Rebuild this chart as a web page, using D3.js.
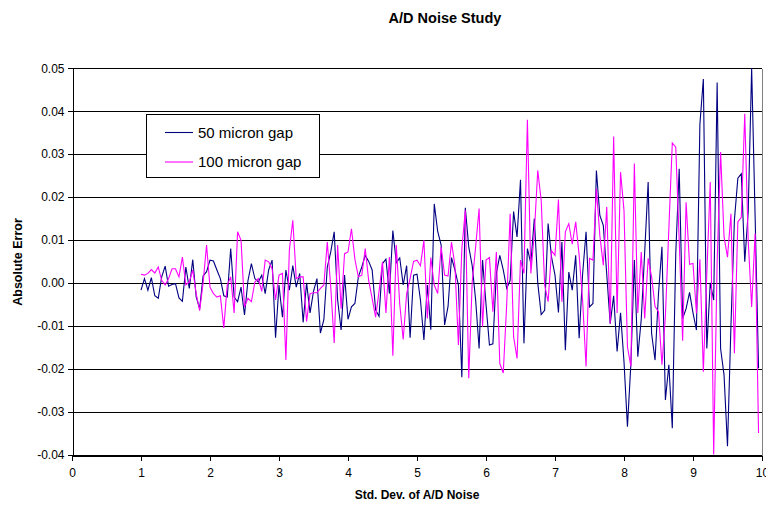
<!DOCTYPE html>
<html>
<head>
<meta charset="utf-8">
<script src="https://cdn.jsdelivr.net/npm/d3@7"></script>
<style>
  html, body { margin: 0; padding: 0; background: #ffffff; }
  svg { display: block; }
  text { font-family: "Liberation Sans", Arial, sans-serif; fill: #000; }
</style>
</head>
<body>
<svg id="chart" width="766" height="506"></svg>
<script>
// ---- data ----
const chartTitle = "A/D Noise Study";
const xTitle = "Std. Dev. of A/D Noise";
const yTitle = "Absolute Error";
const seriesNames = ["50 micron gap", "100 micron gap"];
const xStart = 1;
const xStep = 0.05;
const xTicks = [0, 1, 2, 3, 4, 5, 6, 7, 8, 9, 10];
const yTicks = [-0.04, -0.03, -0.02, -0.01, 0, 0.01, 0.02, 0.03, 0.04, 0.05];

const gap50 = [
  -0.0017, 0.001, -0.0017, 0.0012, -0.003, -0.0036, 0.0014, 0.0039, -0.0008, -0.0004,
  -0.0002, -0.0035, -0.0043, 0.0037, -0.0013, 0.0054, -0.0033, -0.006, 0.0016, 0.0026,
  0.0053, 0.0051, 0.003, 0.001, -0.003, -0.0033, 0.008, -0.0033, -0.0044, -0.001,
  -0.0075, 0.0005, 0.0045, 0.001, 0.0002, 0.0018, -0.0025, 0.003, 0.0053, -0.0128,
  -0.0005, -0.008, 0.003, -0.0017, 0.004, -0.001, 0.0022, -0.0092, 0.0, -0.007,
  -0.002, 0.001, -0.0117, -0.0086, 0.0037, 0.0072, 0.0119, -0.004, -0.011, 0.0018,
  -0.0085, -0.0056, -0.0048, 0.0014, 0.0037, 0.0064, 0.005, 0.003, -0.0063, -0.0078,
  0.0045, 0.0055, -0.0025, 0.0122, 0.0047, 0.0058, -0.0005, 0.004, -0.0128, 0.0018,
  0.002, -0.004, -0.0133, -0.0005, -0.0109, 0.0184, 0.012, 0.0088, -0.0098, -0.0055,
  0.0059, 0.003, -0.0005, -0.022, 0.0175, 0.0084, 0.004, -0.004, -0.0153, 0.0053,
  -0.005, -0.0145, -0.0142, 0.0022, 0.0064, 0.003, -0.0013, 0.0006, 0.0166, 0.0107,
  0.024, -0.0141, 0.008, 0.0045, 0.015, 0.0, -0.0074, -0.0064, 0.0138, 0.006,
  0.0018, -0.0069, 0.0095, -0.0157, 0.0025, -0.0017, 0.0064, -0.0129, 0.002, 0.0119,
  -0.0056, -0.0048, 0.0262, 0.0157, 0.0134, 0.002, -0.0095, -0.003, -0.016, -0.007,
  -0.0184, -0.0335, -0.0188, 0.0053, -0.0172, -0.0085, 0.0072, 0.0235, -0.0118, -0.018,
  -0.0025, 0.0084, -0.0273, -0.0191, -0.0339, 0.0068, 0.0266, -0.0083, -0.006, -0.0022,
  -0.007, -0.011, 0.037, 0.0475, -0.0153, 0.0, -0.004, 0.0467, -0.0153, -0.0215,
  -0.0381, -0.01, 0.0146, 0.0244, 0.0254, 0.0049, 0.0165, 0.05, 0.0157, -0.0199
];

const gap100 = [
  0.002, 0.0018, 0.0022, 0.0031, 0.0023, 0.0037, 0.0006, -0.0005, 0.001, 0.0033,
  0.0033, 0.0014, 0.006, -0.0005, 0.0002, 0.003, -0.0025, -0.0065, 0.0, 0.0088,
  -0.001, -0.0025, -0.0033, -0.003, -0.0105, -0.0005, 0.0014, -0.007, 0.0119, 0.0099,
  -0.0056, -0.0036, -0.0044, 0.0002, 0.001, -0.002, 0.0053, 0.0049, 0.0033, -0.004,
  0.0018, 0.0022, -0.018, 0.0076, 0.0146, 0.001, 0.0014, 0.0014, -0.009, -0.0025,
  -0.0023, -0.0023, -0.0013, -0.0005, 0.0095, -0.001, -0.014, 0.0088, -0.006, 0.0068,
  0.0072, 0.0126, 0.0055, 0.0014, 0.0018, 0.008, 0.0005, -0.0036, -0.008, -0.002,
  0.0049, -0.007, 0.006, -0.017, 0.0088, -0.005, -0.0132, -0.0025, 0.001, 0.005,
  0.0053, 0.004, 0.0099, -0.0083, 0.0059, -0.0005, -0.0025, 0.0084, 0.0018, 0.0016,
  0.0095, 0.004, -0.0145, 0.008, 0.0169, -0.0222, 0.0002, 0.0084, 0.0173, -0.0102,
  0.0053, 0.0059, -0.0067, 0.0072, -0.0188, -0.021, -0.005, 0.0161, -0.0126, -0.0176,
  0.0053, 0.0022, 0.038, 0.0022, 0.0115, 0.0262, 0.0192, -0.0005, -0.0044, 0.0075,
  0.0064, 0.0194, -0.0044, 0.0119, 0.0138, 0.009, 0.0142, 0.0064, -0.004, -0.0195,
  0.0057, 0.0053, 0.0219, 0.011, 0.0041, 0.0177, -0.0095, 0.0341, -0.007, 0.0258,
  0.0169, -0.0149, -0.0195, 0.0278, -0.007, 0.0072, -0.0083, 0.0057, 0.0014, -0.0055,
  -0.0067, -0.0191, -0.0078, 0.0126, 0.0326, 0.0316, 0.01, -0.0135, 0.0188, 0.0043,
  0.0045, -0.0071, 0.0055, -0.0207, 0.002, 0.0235, -0.04, 0.005, 0.0305, 0.0107,
  0.006, 0.0161, -0.0164, 0.0142, 0.0153, 0.0394, 0.01, -0.0056, 0.0115, -0.035
];

// ---- chart ----
const svg = d3.select("#chart");
const pL = 72, pR = 762, pT = 68.3, pB = 454.5;
const x = d3.scaleLinear().domain([0, 10]).range([pL, pR]);
const y = d3.scaleLinear().domain([-0.04, 0.05]).range([pB, pT]);
const crisp = v => Math.round(v) + 0.5;

// gridlines
svg.append("g").selectAll("line").data(yTicks).join("line")
  .attr("x1", pL).attr("x2", pR)
  .attr("y1", d => crisp(y(d))).attr("y2", d => crisp(y(d)))
  .attr("stroke", "#000").attr("stroke-width", 1)
  .attr("shape-rendering", "crispEdges");

// right border
svg.append("line")
  .attr("x1", crisp(pR)).attr("x2", crisp(pR))
  .attr("y1", crisp(pT)).attr("y2", crisp(pB))
  .attr("stroke", "#808080").attr("shape-rendering", "crispEdges");

// axes
const xAxis = svg.append("g")
  .attr("transform", `translate(0,${crisp(pB)})`)
  .call(d3.axisBottom(x).tickValues(xTicks).tickSize(5).tickSizeOuter(0).tickPadding(8).tickFormat(d3.format("d")));
const yAxis = svg.append("g")
  .attr("transform", `translate(${crisp(pL)},0)`)
  .call(d3.axisLeft(y).tickValues(yTicks).tickSize(5).tickSizeOuter(0).tickPadding(3).tickFormat(d => d3.format(".2f")(d).replace("\u2212", "-")));
[xAxis, yAxis].forEach(g => {
  g.selectAll("path, line").attr("stroke", "#000").attr("shape-rendering", "crispEdges");
  g.selectAll("text").style("font-family", '"Liberation Sans", Arial, sans-serif').style("font-size", "12px").attr("fill", "#000");
});

// lines
const line = d3.line()
  .x((d, i) => x(xStart + xStep * i))
  .y(d => y(d));
const plot = svg.append("g");
plot.append("path").datum(gap50)
  .attr("d", line).attr("fill", "none").attr("stroke", "#000080").attr("stroke-width", 1.1)
  .attr("stroke-linejoin", "miter");
plot.append("path").datum(gap100)
  .attr("d", line).attr("fill", "none").attr("stroke", "#ff00ff").attr("stroke-width", 1.1)
  .attr("stroke-linejoin", "miter");

// title
svg.append("text").attr("x", 445).attr("y", 23).attr("text-anchor", "middle")
  .style("font-size", "14.5px").style("font-weight", "bold").text(chartTitle);

// axis titles
svg.append("text").attr("x", 417).attr("y", 499).attr("text-anchor", "middle")
  .style("font-size", "12px").style("font-weight", "bold").text(xTitle);
svg.append("text").attr("transform", "translate(22,262) rotate(-90)").attr("text-anchor", "middle")
  .style("font-size", "12.5px").style("font-weight", "bold").text(yTitle);

// legend
const lg = svg.append("g");
lg.append("rect").attr("x", 146.5).attr("y", 114.5).attr("width", 173).attr("height", 63)
  .attr("fill", "#fff").attr("stroke", "#000").attr("shape-rendering", "crispEdges");
const colors = ["#000080", "#ff00ff"];
seriesNames.forEach((name, k) => {
  const yy = 132.5 + k * 29.5;
  lg.append("line").attr("x1", 165).attr("x2", 193).attr("y1", yy).attr("y2", yy)
    .attr("stroke", colors[k]).attr("stroke-width", 1.1);
  lg.append("text").attr("x", 198).attr("y", yy + 5.4)
    .style("font-size", "15px").text(name);
});
</script>
</body>
</html>
